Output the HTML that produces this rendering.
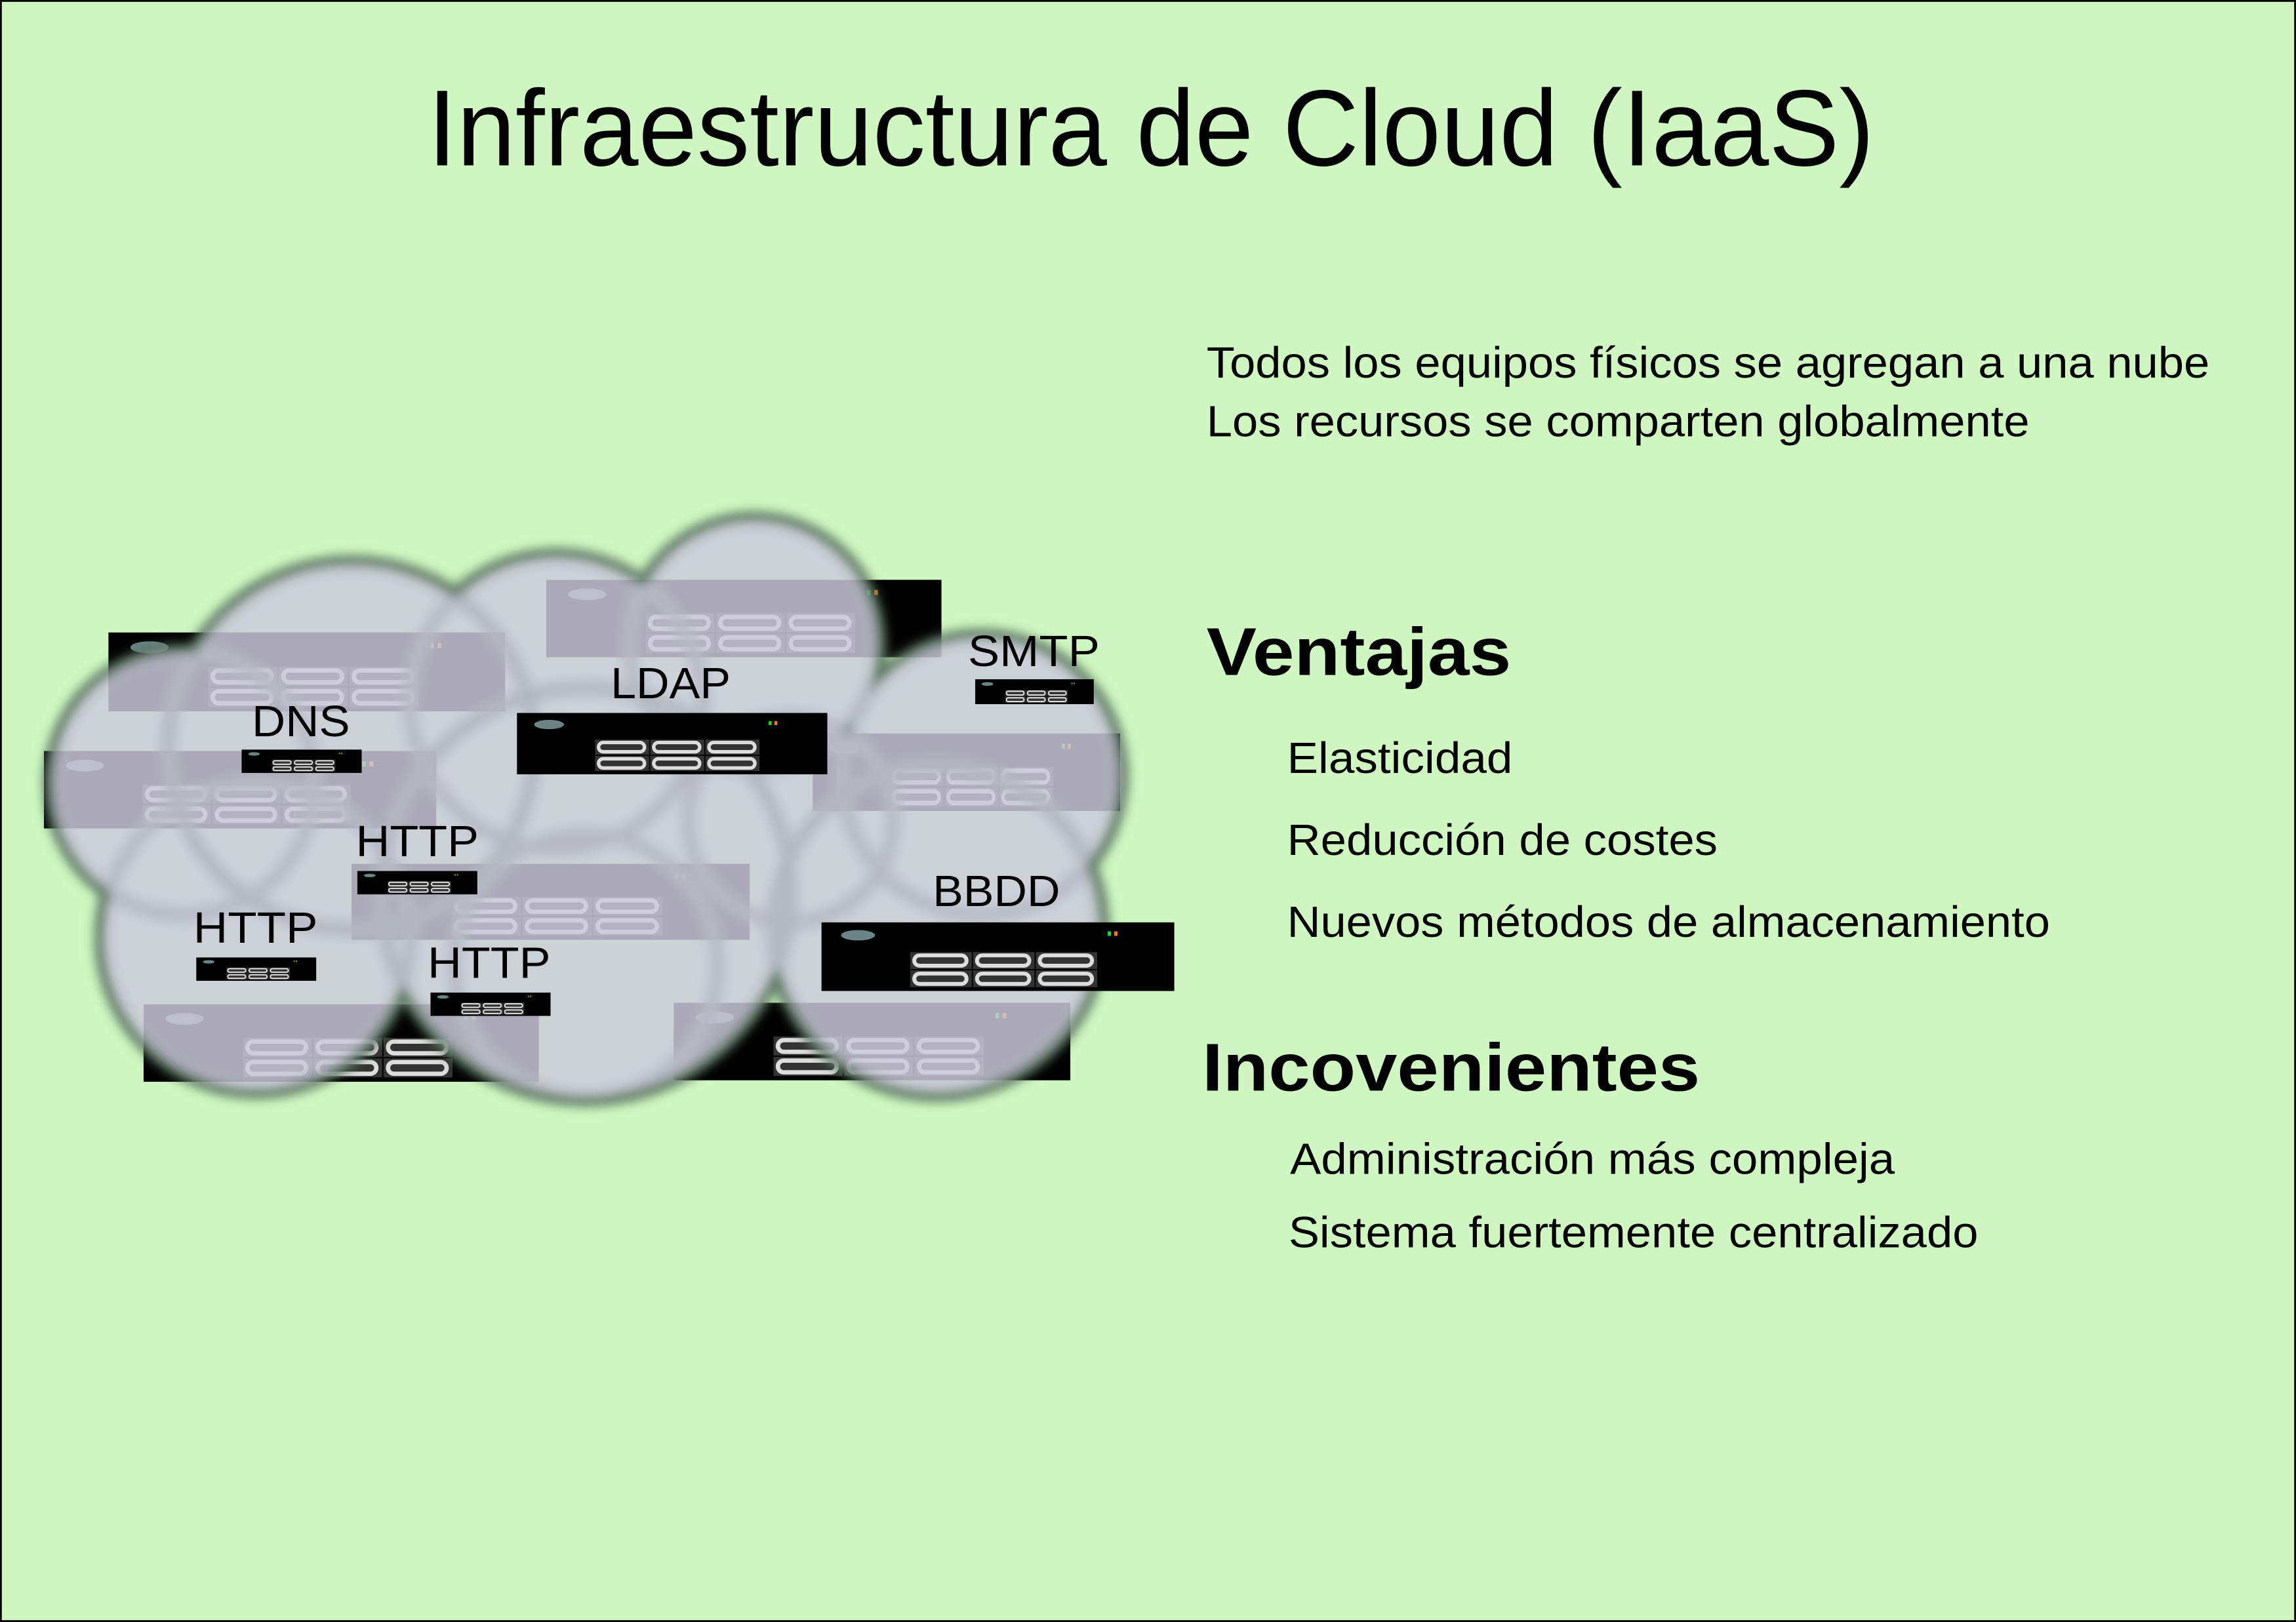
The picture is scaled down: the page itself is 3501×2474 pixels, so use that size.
<!DOCTYPE html>
<html><head><meta charset="utf-8"><style>
html,body{margin:0;padding:0;background:#d0f7c1}
svg{display:block}
text{font-family:"Liberation Sans",sans-serif;fill:#000}
</style></head><body>
<svg width="3501" height="2474" viewBox="0 0 1568 1108" preserveAspectRatio="none" xmlns="http://www.w3.org/2000/svg">
<defs>
<symbol id="srv" viewBox="0 0 270 53" preserveAspectRatio="none">
<rect x="0" y="0" width="270" height="53" fill="#000"/>
<ellipse cx="28" cy="10" rx="13" ry="4" fill="#6a8584"/>
<rect x="219" y="7" width="2.5" height="3.5" fill="#1d1"/>
<rect x="224" y="7" width="2.5" height="3.5" fill="#f70"/>
<g fill="#333">
<rect x="68" y="23" width="47" height="13"/><rect x="116" y="23" width="47" height="13"/><rect x="164" y="23" width="47" height="13"/>
<rect x="68" y="37" width="47" height="13"/><rect x="116" y="37" width="47" height="13"/><rect x="164" y="37" width="47" height="13"/>
</g>
<g fill="none" stroke="#ddd" stroke-width="3">
<rect x="71" y="25.5" width="40" height="8" rx="4"/><rect x="119" y="25.5" width="40" height="8" rx="4"/><rect x="167" y="25.5" width="40" height="8" rx="4"/>
<rect x="71" y="39.5" width="40" height="8" rx="4"/><rect x="119" y="39.5" width="40" height="8" rx="4"/><rect x="167" y="39.5" width="40" height="8" rx="4"/>
</g>
</symbol>
<filter id="bl" x="-10%" y="-10%" width="120%" height="120%"><feGaussianBlur stdDeviation="4"/></filter>
<g id="circ">
<circle cx="240" cy="510" r="125"/><circle cx="515" cy="440" r="85"/><circle cx="670" cy="530" r="95"/>
<circle cx="640" cy="635" r="112"/><circle cx="400" cy="610" r="140"/><circle cx="125" cy="535" r="90"/>
<circle cx="175" cy="640" r="105"/><circle cx="380" cy="480" r="100"/><circle cx="400" cy="660" r="90"/>
<circle cx="540" cy="560" r="70"/>
</g>
</defs>
<rect x="0.5" y="0.5" width="1567" height="1107" fill="#d0f7c1" stroke="#000" stroke-width="1.5"/>

<text x="292" y="113" font-size="74" textLength="988" lengthAdjust="spacingAndGlyphs">Infraestructura de Cloud (IaaS)</text>
<text x="824" y="258" font-size="30" textLength="685" lengthAdjust="spacingAndGlyphs">Todos los equipos físicos se agregan a una nube</text>
<text x="824" y="298" font-size="30" textLength="562" lengthAdjust="spacingAndGlyphs">Los recursos se comparten globalmente</text>
<text x="824" y="461" font-size="46" font-weight="bold" textLength="208" lengthAdjust="spacingAndGlyphs">Ventajas</text>
<text x="879" y="528" font-size="30" textLength="154" lengthAdjust="spacingAndGlyphs">Elasticidad</text>
<text x="879" y="584" font-size="30" textLength="294" lengthAdjust="spacingAndGlyphs">Reducción de costes</text>
<text x="879" y="640" font-size="30" textLength="521" lengthAdjust="spacingAndGlyphs">Nuevos métodos de almacenamiento</text>
<text x="821" y="745" font-size="46" font-weight="bold" textLength="340" lengthAdjust="spacingAndGlyphs">Incovenientes</text>
<text x="881" y="802" font-size="30" textLength="413" lengthAdjust="spacingAndGlyphs">Administración más compleja</text>
<text x="880" y="852" font-size="30" textLength="471" lengthAdjust="spacingAndGlyphs">Sistema fuertemente centralizado</text>

<use href="#srv" x="74" y="432" width="271" height="54"/>
<use href="#srv" x="373" y="396" width="270" height="53"/>
<use href="#srv" x="30" y="513" width="268" height="53"/>
<use href="#srv" x="555" y="501" width="210" height="53"/>
<use href="#srv" x="240" y="590" width="272" height="52"/>
<use href="#srv" x="98" y="686" width="270" height="53"/>
<use href="#srv" x="460" y="685" width="271" height="53"/>

<g filter="url(#bl)">
<use href="#circ" fill="none" stroke="#4a6650" stroke-width="10"/>
</g>
<g filter="url(#bl)" opacity="0.84">
<use href="#circ" fill="#cdcbdc"/>
</g>
<g filter="url(#bl)" fill="none" stroke="#8a9a90" stroke-width="3" opacity="0.2">
<circle cx="240" cy="510" r="125"/><circle cx="400" cy="610" r="140"/><circle cx="640" cy="635" r="112"/>
</g>

<use href="#srv" x="353" y="487" width="212" height="42"/>
<use href="#srv" x="561" y="630" width="241" height="47"/>
<use href="#srv" x="666" y="464" width="81" height="17"/>
<use href="#srv" x="165" y="512" width="82" height="16"/>
<use href="#srv" x="244" y="595" width="82" height="16"/>
<use href="#srv" x="134" y="654" width="82" height="16"/>
<use href="#srv" x="294" y="678" width="82" height="16"/>

<g font-size="30">
<text x="661" y="455" textLength="90" lengthAdjust="spacingAndGlyphs">SMTP</text>
<text x="417" y="477" textLength="82" lengthAdjust="spacingAndGlyphs">LDAP</text>
<text x="172" y="503" textLength="67" lengthAdjust="spacingAndGlyphs">DNS</text>
<text x="243" y="585" textLength="84" lengthAdjust="spacingAndGlyphs">HTTP</text>
<text x="132" y="644" textLength="85" lengthAdjust="spacingAndGlyphs">HTTP</text>
<text x="292" y="668" textLength="84" lengthAdjust="spacingAndGlyphs">HTTP</text>
<text x="637" y="619" textLength="87" lengthAdjust="spacingAndGlyphs">BBDD</text>
</g>
</svg>
</body></html>
